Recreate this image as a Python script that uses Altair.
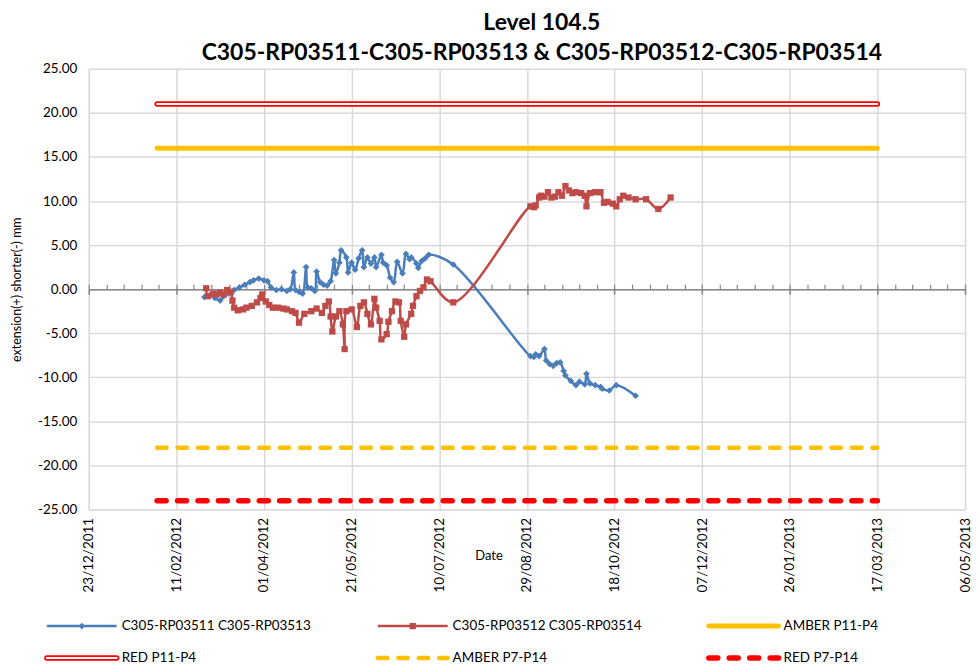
import altair as alt
import pandas as pd

FONT = "Lato"

TITLE = ["Level 104.5", "C305-RP03511-C305-RP03513 & C305-RP03512-C305-RP03514"]
Y_TITLE = "extension(+) shorter(-) mm"
X_TITLE = "Date"

BLUE_NAME = "C305-RP03511 C305-RP03513"
blue_dates = ["2012-02-27", "2012-03-01", "2012-03-04", "2012-03-07", "2012-03-09", "2012-03-12",
              "2012-03-15", "2012-03-18", "2012-03-21", "2012-03-24", "2012-03-26", "2012-03-29",
              "2012-04-01", "2012-04-03", "2012-04-05", "2012-04-08", "2012-04-11", "2012-04-14",
              "2012-04-16", "2012-04-18", "2012-04-19", "2012-04-21", "2012-04-23", "2012-04-25",
              "2012-04-26", "2012-04-28", "2012-04-30", "2012-05-01", "2012-05-03", "2012-05-05",
              "2012-05-07", "2012-05-09", "2012-05-11", "2012-05-12", "2012-05-14", "2012-05-15",
              "2012-05-18", "2012-05-19", "2012-05-21", "2012-05-23", "2012-05-25", "2012-05-27",
              "2012-05-28", "2012-05-30", "2012-06-01", "2012-06-03", "2012-06-04", "2012-06-07",
              "2012-06-08", "2012-06-10", "2012-06-12", "2012-06-14", "2012-06-16", "2012-06-19",
              "2012-06-21", "2012-06-23", "2012-06-24", "2012-06-27", "2012-06-28", "2012-06-30",
              "2012-07-02", "2012-07-04", "2012-07-18", "2012-08-31", "2012-09-02", "2012-09-03",
              "2012-09-05", "2012-09-08", "2012-09-09", "2012-09-11", "2012-09-13", "2012-09-15",
              "2012-09-17", "2012-09-19", "2012-09-20", "2012-09-23", "2012-09-26", "2012-09-28",
              "2012-10-01", "2012-10-02", "2012-10-04", "2012-10-07", "2012-10-10", "2012-10-11",
              "2012-10-15", "2012-10-19", "2012-10-30"]
blue_values = [-0.9, -0.7, -1.0, -1.3, -0.8, -0.5, -0.1, 0.2, 0.5, 0.8,
               1.0, 1.2, 1.0, 0.9, 0.2, -0.1, 0.0, -0.2, 0.0, 1.9,
               -0.1, -0.3, -0.5, 2.5, 0.2, 0.1, -0.2, 2.0, 0.8, 0.5,
               0.4, 0.9, 3.3, 1.8, 3.0, 4.4, 3.6, 1.9, 3.0, 2.2,
               3.5, 4.4, 2.5, 3.6, 2.9, 3.6, 2.5, 3.9, 3.0, 2.7,
               1.3, 0.8, 3.1, 1.8, 4.0, 3.4, 3.6, 2.9, 2.4, 3.2,
               3.5, 3.9, 2.8, -7.6, -7.7, -7.4, -7.6, -6.8, -8.1, -8.5,
               -8.7, -8.4, -8.3, -9.3, -9.8, -10.4, -10.9, -10.5, -10.8, -9.6,
               -10.7, -10.9, -11.1, -11.3, -11.5, -10.9, -12.1]

RED_NAME = "C305-RP03512 C305-RP03514"
red_dates = ["2012-02-28", "2012-02-29", "2012-03-03", "2012-03-05", "2012-03-07", "2012-03-09",
             "2012-03-11", "2012-03-13", "2012-03-14", "2012-03-15", "2012-03-17", "2012-03-20",
             "2012-03-22", "2012-03-25", "2012-03-28", "2012-03-30", "2012-03-31", "2012-04-02",
             "2012-04-04", "2012-04-06", "2012-04-09", "2012-04-12", "2012-04-14", "2012-04-17",
             "2012-04-19", "2012-04-21", "2012-04-24", "2012-04-28", "2012-05-01", "2012-05-04",
             "2012-05-06", "2012-05-08", "2012-05-09", "2012-05-10", "2012-05-12", "2012-05-14",
             "2012-05-16", "2012-05-17", "2012-05-18", "2012-05-21", "2012-05-24", "2012-05-26",
             "2012-05-28", "2012-05-30", "2012-06-01", "2012-06-03", "2012-06-04", "2012-06-06",
             "2012-06-07", "2012-06-10", "2012-06-11", "2012-06-13", "2012-06-15", "2012-06-17",
             "2012-06-18", "2012-06-20", "2012-06-21", "2012-06-24", "2012-06-25", "2012-06-27",
             "2012-06-29", "2012-07-01", "2012-07-03", "2012-07-05", "2012-07-18", "2012-08-31",
             "2012-09-02", "2012-09-03", "2012-09-05", "2012-09-06", "2012-09-08", "2012-09-10",
             "2012-09-12", "2012-09-14", "2012-09-16", "2012-09-18", "2012-09-20", "2012-09-22",
             "2012-09-24", "2012-09-26", "2012-09-29", "2012-10-01", "2012-10-02", "2012-10-04",
             "2012-10-07", "2012-10-10", "2012-10-12", "2012-10-14", "2012-10-17", "2012-10-19",
             "2012-10-21", "2012-10-23", "2012-10-26", "2012-10-30", "2012-11-05", "2012-11-12",
             "2012-11-19"]
red_values = [0.1, -0.8, -0.5, -0.6, -0.4, -0.6, -0.1, -0.3, -1.3, -2.1,
              -2.4, -2.3, -2.1, -1.9, -1.5, -1.0, -0.6, -1.4, -1.8, -2.1,
              -2.1, -2.2, -2.3, -2.5, -2.7, -3.8, -2.8, -2.5, -2.2, -2.7,
              -1.9, -1.4, -3.1, -4.8, -3.1, -2.5, -4.0, -6.8, -2.5, -2.3,
              -4.3, -1.9, -1.5, -2.8, -4.0, -1.1, -2.1, -3.6, -5.7, -5.1,
              -3.7, -2.5, -1.4, -1.5, -3.6, -5.4, -4.0, -2.8, -1.9, -0.8,
              -0.2, 0.2, 1.1, 0.9, -1.5, 9.4, 9.3, 9.5, 10.4, 10.6,
              10.5, 11.0, 10.4, 10.5, 11.0, 10.6, 11.7, 11.2, 10.9, 11.0,
              10.9, 10.6, 9.4, 10.9, 11.0, 11.0, 9.8, 9.9, 9.7, 9.4,
              10.2, 10.6, 10.4, 10.2, 10.2, 9.1, 10.4]

limit_names = ["AMBER P11-P4", "RED P11-P4", "AMBER P7-P14", "RED P7-P14"]
limit_values = [16.0, 21.0, -18.0, -24.0]
limit_from = "2012-01-31"
limit_to = "2013-03-17"

x_tick_labels = ["23/12/2011", "11/02/2012", "01/04/2012", "21/05/2012", "10/07/2012", "29/08/2012",
                 "18/10/2012", "07/12/2012", "26/01/2013", "17/03/2013", "06/05/2013"]
y_tick_values = [-25, -20, -15, -10, -5, 0, 5, 10, 15, 20, 25]

legend_names = [BLUE_NAME, RED_NAME, "AMBER P11-P4", "RED P11-P4", "AMBER P7-P14", "RED P7-P14"]

BLUE = "#4A7EBB"
BROWN = "#BE4B48"
AMBER = "#FFC000"
RED = "#FF0000"

W, H = 879, 442
LABEL_SIZE = 13.5

# ---------------- data frames ----------------
blue_df = pd.DataFrame({"date": pd.to_datetime(blue_dates), "value": blue_values})
red_df = pd.DataFrame({"date": pd.to_datetime(red_dates), "value": red_values})
limits_df = pd.DataFrame({
    "name": limit_names,
    "value": limit_values,
    "start": pd.to_datetime(limit_from),
    "end": pd.to_datetime(limit_to),
})
legend_df = pd.DataFrame({
    "name": legend_names,
    "col": [i % 3 for i in range(len(legend_names))],
    "row": [i // 3 for i in range(len(legend_names))],
})

ticks = pd.to_datetime(x_tick_labels, format="%d/%m/%Y")


def dt(t):
    return alt.DateTime(year=int(t.year), month=int(t.month), date=int(t.day))


minor_ticks = pd.date_range(ticks[0], ticks[-1], freq="10D")

x_scale = alt.Scale(domain=[dt(ticks[0]), dt(ticks[-1])])
y_scale = alt.Scale(domain=[y_tick_values[0], y_tick_values[-1]], nice=False, zero=False)

bottom_axis = alt.Axis(
    values=[dt(t) for t in ticks], format="%d/%m/%Y", labelAngle=-90,
    grid=True, gridColor="#D9D9D9", gridWidth=1.5, domain=False, ticks=False,
    labelPadding=8, labelFont=FONT, labelFontSize=LABEL_SIZE, labelColor="#000",
    labelFlush=False, labelOverlap=False,
    title=X_TITLE, titleX=401, titleY=46, titleBaseline="middle", titleFont=FONT,
    titleFontSize=13, titleFontWeight="normal", titleColor="#000",
)
# minor ticks on the zero line (pointing up)
zero_axis = alt.Axis(
    orient="top", offset=-H / 2, values=[dt(t) for t in minor_ticks], labels=False,
    grid=False, domain=True, domainColor="#868686", domainWidth=1.5,
    ticks=True, tickColor="#868686", tickSize=5, tickWidth=1.2, title=None,
)
# major ticks on the zero line (pointing down)
zero_axis_major = alt.Axis(
    orient="bottom", offset=-H / 2, values=[dt(t) for t in ticks], labels=False,
    grid=False, domain=False, ticks=True, tickColor="#868686", tickSize=5,
    tickWidth=1.5, title=None,
)
y_axis = alt.Axis(
    values=y_tick_values,
    labelExpr="replace(format(datum.value, '.2f'), '\u2212', '-')",
    grid=True, gridColor="#D9D9D9", gridWidth=1.5, domain=False, ticks=False,
    labelPadding=12, labelFont=FONT, labelFontSize=LABEL_SIZE, labelColor="#000",
    title=Y_TITLE, titleX=-72, titleY=H / 2, titleBaseline="middle", titleFont=FONT,
    titleFontSize=12.5, titleFontWeight="normal", titleColor="#000",
)

y_enc = alt.Y("value:Q", scale=y_scale, axis=y_axis)

STYLES = {
    "AMBER P11-P4": [dict(color=AMBER, strokeWidth=5, strokeCap="round")],
    "RED P11-P4": [dict(color=RED, strokeWidth=5.5, strokeCap="round"),
                   dict(color="white", strokeWidth=2, strokeCap="round")],
    "AMBER P7-P14": [dict(color=AMBER, strokeWidth=4.5, strokeCap="round", strokeDash=[9.5, 11])],
    "RED P7-P14": [dict(color=RED, strokeWidth=5.5, strokeCap="round", strokeDash=[9, 11.5])],
}

layers = []
for name in limit_names:
    for st in STYLES[name]:
        layers.append(
            alt.Chart(limits_df)
            .transform_filter(alt.datum.name == name)
            .mark_rule(**st)
            .encode(x=alt.X("start:T", scale=x_scale, axis=None), x2="end:T", y=y_enc)
        )

blue_line = alt.Chart(blue_df).mark_line(
    color=BLUE, strokeWidth=2.5, interpolate="catmull-rom"
).encode(x=alt.X("date:T", scale=x_scale, axis=bottom_axis), y=y_enc)
blue_pts = alt.Chart(blue_df).mark_point(
    shape="diamond", filled=True, color=BLUE, size=45, opacity=1
).encode(x=alt.X("date:T", scale=x_scale, axis=zero_axis), y=y_enc)
red_line = alt.Chart(red_df).mark_line(
    color=BROWN, strokeWidth=2.5, interpolate="catmull-rom"
).encode(x=alt.X("date:T", scale=x_scale, axis=None), y=y_enc)
red_pts = alt.Chart(red_df).mark_point(
    shape="square", filled=True, color=BROWN, size=40, opacity=1
).encode(x=alt.X("date:T", scale=x_scale, axis=zero_axis_major), y=y_enc)

layers += [blue_line, blue_pts, red_line, red_pts]
main = alt.layer(*layers).resolve_axis(x="independent")

# ---------------- legend (own scales, below plot) ----------------
SYM = 70
lx = alt.X("col:Q", scale=alt.Scale(domain=[0, 2], range=[47 - 89, 711 - 89], nice=False, zero=False), axis=None)
ly = alt.Y("row:Q", scale=alt.Scale(domain=[0, 1], range=[628 - 69, 660 - 69], nice=False, zero=False), axis=None)

LEG_STYLES = {
    BLUE_NAME: [dict(color=BLUE, strokeWidth=2.5)],
    RED_NAME: [dict(color=BROWN, strokeWidth=2.5)],
    "AMBER P11-P4": [dict(color=AMBER, strokeWidth=5, strokeCap="round")],
    "RED P11-P4": [dict(color=RED, strokeWidth=5.5, strokeCap="round"),
                   dict(color="white", strokeWidth=2, strokeCap="round")],
    "AMBER P7-P14": [dict(color=AMBER, strokeWidth=4.5, strokeCap="round", strokeDash=[9.5, 11])],
    "RED P7-P14": [dict(color=RED, strokeWidth=5.5, strokeCap="round", strokeDash=[9, 11.5])],
}

leg_layers = []
for name in legend_names:
    for st in LEG_STYLES[name]:
        leg_layers.append(
            alt.Chart(legend_df)
            .transform_filter(alt.datum.name == name)
            .mark_rule(x2Offset=SYM, **st)
            .encode(x=lx, x2="col:Q", y=ly)
        )
leg_layers.append(
    alt.Chart(legend_df).transform_filter(alt.datum.name == BLUE_NAME)
    .mark_point(shape="diamond", filled=True, color=BLUE, size=45, opacity=1, xOffset=SYM / 2)
    .encode(x=lx, y=ly)
)
leg_layers.append(
    alt.Chart(legend_df).transform_filter(alt.datum.name == RED_NAME)
    .mark_point(shape="square", filled=True, color=BROWN, size=40, opacity=1, xOffset=SYM / 2)
    .encode(x=lx, y=ly)
)
leg_layers.append(
    alt.Chart(legend_df)
    .mark_text(align="left", baseline="middle", dx=SYM + 5, font=FONT, fontSize=LABEL_SIZE, color="#000")
    .encode(x=lx, y=ly, text="name:N")
)
legend = alt.layer(*leg_layers)

chart = (
    alt.layer(main, legend)
    .resolve_scale(x="independent", y="independent")
    .properties(
        width=W, height=H,
        padding={"left": 3, "top": 3, "right": 0, "bottom": 0},
        title=alt.TitleParams(
            text=TITLE, font=FONT, fontSize=23, fontWeight="bold", anchor="middle",
            dx=15, offset=-3, lineHeight=30, color="#000",
        ),
    )
    .configure_view(stroke="#000", strokeWidth=1.5)
    .configure(background="white")
)

chart.save("out.html", embed_options={"renderer": "svg", "actions": False})
